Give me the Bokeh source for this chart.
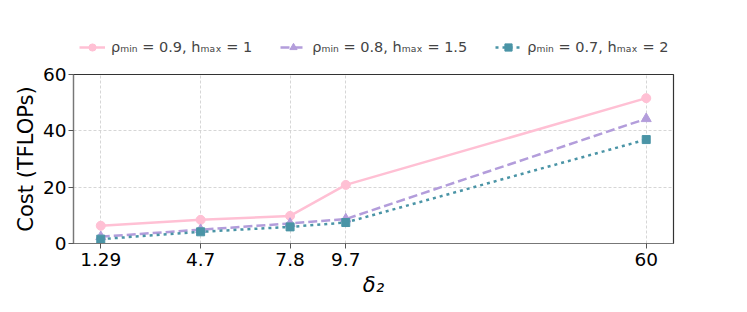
from bokeh.plotting import figure
from bokeh.models import FixedTicker, Range1d, Legend, LegendItem
from bokeh.layouts import column
from bokeh.embed import file_html
from bokeh.resources import INLINE

# data
delta_labels = ["1.29", "4.7", "7.8", "9.7", "60"]
x_pos = [0.0, 1.0, 1.896, 2.454, 5.463]
cost_a = [6.3, 8.4, 9.8, 20.8, 51.6]   # rho_min=0.9, h_max=1
cost_b = [2.4, 4.9, 7.1, 8.7, 44.3]    # rho_min=0.8, h_max=1.5
cost_c = [1.55, 4.15, 5.9, 7.45, 36.9] # rho_min=0.7, h_max=2
y_ticks = [0, 20, 40, 60]
labels = ["ρₘᵢₙ = 0.9, hₘₐₓ = 1", "ρₘᵢₙ = 0.8, hₘₐₓ = 1.5", "ρₘᵢₙ = 0.7, hₘₐₓ = 2"]

FONT = "DejaVu Sans"
PINK = "#ffc0d4"
PURPLE = "#b39ddb"
TEAL = "#4a94a6"
styles = [dict(color=PINK, dash="solid", marker="circle", size=9),
          dict(color=PURPLE, dash="9 4", marker="triangle", size=10),
          dict(color=TEAL, dash="3 4", marker="square", size=8)]
series = [cost_a, cost_b, cost_c]

W = 731
span = x_pos[-1] - x_pos[0]
p = figure(width=W, height=252, output_backend="svg", toolbar_location=None,
           x_range=Range1d(x_pos[0] - 0.05 * span, x_pos[-1] + 0.05 * span),
           y_range=Range1d(0, 60),
           min_border_left=73, min_border_right=W - 73 - 600, min_border_top=14, min_border_bottom=69)

p.background_fill_color = "white"
p.border_fill_color = "white"
p.outline_line_color = "#333333"
p.outline_line_width = 1.2

for ys, st in zip(series, styles):
    p.line(x_pos, ys, line_color=st["color"], line_width=2.5, line_dash=st["dash"])
    p.scatter(x_pos, ys, marker=st["marker"], size=st["size"],
              fill_color=st["color"], line_color=st["color"])

p.xaxis.ticker = FixedTicker(ticks=x_pos)
p.xaxis.major_label_overrides = {x: l for x, l in zip(x_pos, delta_labels)}
p.yaxis.ticker = FixedTicker(ticks=y_ticks)

for ax in (p.xaxis, p.yaxis):
    ax.major_label_text_font = FONT
    ax.major_label_text_font_size = "18.5px"
    ax.major_label_text_color = "black"
    ax.axis_label_text_font = FONT
    ax.axis_label_text_font_size = "21px"
    ax.axis_label_text_color = "black"
    ax.axis_label_text_font_style = "normal"
    ax.minor_tick_line_color = None
    ax.major_tick_out = 5
    ax.major_tick_in = 0
    ax.major_tick_line_color = "#555555"
    ax.axis_line_color = "#777777"
    ax.axis_line_width = 1.2

p.xaxis.axis_label = "δ₂"
p.xaxis.axis_label_text_font_style = "italic"
p.xaxis.major_label_standoff = 4
p.xaxis.axis_label_standoff = 4
p.yaxis.axis_label = "Cost (TFLOPs)"
p.yaxis.major_label_standoff = 2
p.yaxis.axis_label_standoff = 2

for g in (p.xgrid, p.ygrid):
    g.grid_line_color = "#cccccc"
    g.grid_line_dash = "3 2"
    g.grid_line_width = 0.8
p.xgrid.ticker = FixedTicker(ticks=x_pos)
p.ygrid.ticker = FixedTicker(ticks=y_ticks)

# legend strip above the plot (its series lie outside its view, only the legend shows)
lg = figure(width=W, height=60, output_backend="svg", toolbar_location=None,
            x_range=Range1d(-200, -199), y_range=Range1d(-200, -199),
            min_border_left=0, min_border_right=0, min_border_top=0, min_border_bottom=0)
lg.axis.visible = False
lg.grid.visible = False
lg.outline_line_color = None
lg.background_fill_color = "white"
lg.border_fill_color = "white"
items = []
for lab, ys, st in zip(labels, series, styles):
    rl = lg.line(x_pos, ys, line_color=st["color"], line_width=2.5, line_dash=st["dash"])
    rm = lg.scatter(x_pos, ys, marker=st["marker"], size=st["size"],
                    fill_color=st["color"], line_color=st["color"])
    items.append(LegendItem(label=lab, renderers=[rl, rm]))
legend = Legend(items=items, orientation="horizontal", location=(6, 4),
                glyph_width=26, glyph_height=18, label_standoff=6, spacing=28,
                padding=0, margin=0, border_line_color=None, background_fill_alpha=0,
                label_text_font=FONT, label_text_font_size="14.5px", label_height=18)
lg.add_layout(legend, "center")

layout = column(lg, p, spacing=0)
open("out.html", "w").write(file_html(layout, INLINE))
